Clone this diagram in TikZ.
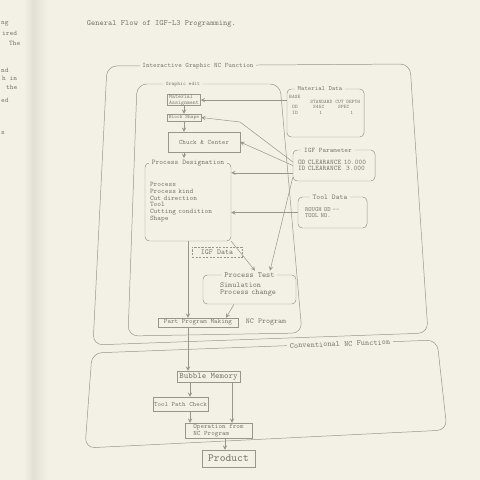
\documentclass[tikz,border=0pt]{standalone}
\definecolor{paper}{RGB}{243,240,229}
\definecolor{ink}{RGB}{122,122,114}
\definecolor{wire}{RGB}{150,150,140}
\newlength\unitpx
\setlength\unitpx{0.025cm}
\begin{document}
\begin{tikzpicture}[x=0.025cm,y=-0.025cm,>=stealth,line width=.35pt,
  fs/.style 2 args={font=\ttfamily\fontsize{#1}{#2}\selectfont,text=ink},
  bx/.style={draw=wire,inner sep=0pt,align=center},
  rbx/.style={draw=wire,rounded corners=3pt,inner sep=0pt},
  ttl/.style={fill=paper,inner xsep=2pt,inner ysep=1pt},
  frame/.style={draw=wire,rounded corners=7pt},
  cn/.style={draw=wire,->}]
\fill[paper] (0,0) rectangle (480,480);
\useasboundingbox (0,0) rectangle (480,480);
\shade[left color=paper,right color=paper!93!black] (24,0) rectangle (33,480);
\shade[left color=paper!93!black,right color=paper] (33,0) rectangle (48,480);
% facing page
\foreach \x/\y/\t in {1/24/ng,2/33/ired,9/43/The,1/70/nd,2/78/h in,6/87/the,1/100/ed,1/133/s}
  \node[fs={5}{5},anchor=west,inner sep=0pt] at (\x,\y) {\t};
\node[fs={5.7}{6},anchor=west] (head) at (82,24) {General Flow of IGF-L3 Programming.};
% frames
\draw[frame] (107,66) -- (410,64) -- (428,333) -- (93,345) -- cycle;
\node[ttl,fs={4.8}{5}] (igt) at (198,66) {Interactive Graphic NC Function};
\draw[frame] (137,84) -- (280,84) -- (302,333) -- (128,336) -- cycle;
\node[ttl,fs={3.8}{4}] (get) at (183,84) {Graphic edit};
\draw[frame] (92,353) -- (437,340) -- (447,430) -- (85,448) -- cycle;
\node[ttl,fs={5.6}{6},rotate=2] (cnt) at (340,344) {Conventional NC Function};
% graphic edit
\node[bx,fs={4}{4.2},align=left,minimum width=33\unitpx,minimum height=11\unitpx] (mas) at (184,100) {Material\\Assignment};
\node[bx,fs={3.7}{4},minimum width=34\unitpx,minimum height=7\unitpx] (blk) at (184,117.5) {Block Shape};
\node[bx,fs={4.8}{5},minimum width=72\unitpx,minimum height=20\unitpx] (chk) at (204,142) {Chuck \& Center};
\node[rbx,fs={5}{4.75},align=left,text width=76\unitpx,inner xsep=5\unitpx,minimum height=78\unitpx] (pd) at (188,202)
  {Process\\Process kind\\Cut direction\\Tool\\Cutting condition\\Shape};
\node[ttl,fs={5.1}{5}] (pdt) at (pd.north) {Process Designation};
\node[bx,dashed,dash pattern=on 1.5pt off 1pt,fs={5.4}{5},minimum width=50\unitpx,minimum height=10\unitpx] (igd) at (217,252) {IGF Data};
\node[rbx,fs={5.5}{5},align=left,text width=59\unitpx,inner xsep=17\unitpx,minimum height=29\unitpx] (pt) at (249.5,289.5)
  {Simulation\\Process change};
\node[ttl,fs={5.6}{5}] (ptt) at (pt.north) {Process Test};
\node[bx,fs={4.8}{5},minimum width=80\unitpx,minimum height=9\unitpx] (ppm) at (198,322.5) {Part Program Making};
\node[fs={5.4}{5},anchor=west] (ncp) at (241,322) {NC Program};
% data boxes
\node[rbx,minimum width=77\unitpx,minimum height=48\unitpx] (mtd) at (325.5,113) {};
\node[ttl,fs={4.6}{5}] (mtdt) at (320,89) {Material Data};
\foreach \x/\y/\t [count=\i] in {289/97/BASE,310/102/STANDARD,335/102/CUT DEPTH,292/107/OD,313/107/S45C,338/107/SPEC,292/113/ID,319/113/1,350/113/1}
  \node[fs={3.7}{4},anchor=west,inner sep=0pt] (md\i) at (\x,\y) {\t};
\node[rbx,fs={5}{4.6},align=left,text width=72\unitpx,inner xsep=5\unitpx,minimum height=31\unitpx] (igp) at (334,165.5)
  {OD CLEARANCE 10.000\\ID CLEARANCE\ \ 3.000};
\node[ttl,fs={4.9}{5}] (igpt) at (328,150) {IGF Parameter};
\node[rbx,fs={4.5}{4.3},align=left,text width=55\unitpx,inner xsep=7\unitpx,minimum height=31\unitpx] (tld) at (332.5,212.5)
  {ROUGH OD -{}-\\TOOL NO.};
\node[ttl,fs={5.2}{5}] (tldt) at (330,197) {Tool Data};
% conventional
\node[bx,fs={6}{6},minimum width=63\unitpx,minimum height=11\unitpx] (bub) at (208.5,376.5) {Bubble Memory};
\node[bx,fs={4.7}{5},minimum width=55\unitpx,minimum height=14\unitpx] (tpc) at (180.5,404) {Tool Path Check};
\node[bx,fs={4.8}{5},align=left,minimum width=67\unitpx,minimum height=15\unitpx] (opn) at (218.5,430.5) {Operation from\\NC Program};
\node[bx,fs={7.8}{8},minimum width=53\unitpx,minimum height=17\unitpx] (prd) at (228.5,458.5) {Product};
% connectors
\coordinate (xa) at (190,0);
\coordinate (xb) at (232,0);
\coordinate (xc) at (225,0);
\coordinate (xd) at (270,0);
\coordinate (xe) at (255,0);
\coordinate (xf) at (234,0);
\coordinate (xg) at (226,0);
\coordinate (kink) at (240,122);
\draw[cn] (mas.east -| mtd.west) -- (mas.east);
\draw[cn] (mas) -- (blk);
\draw[cn] (blk.south) -- (blk.south |- chk.north);
\draw[cn] (blk.south |- chk.south) -- (blk.south |- pdt.north);
\draw[cn] (igp.175) -- (kink) -- (blk.east);
\draw[cn] (igp.west) -- (chk.east);
\draw[cn] (igp.190) -- (pd.east |- igp.190);
\draw[cn] (tld.west) -- (pd.east |- tld.west);
\draw[cn] (igp.196) -- (ptt.north -| xd);
\draw[cn] (pd.south east) -- (ptt.north -| xe);
\draw[cn] (pd.south) -- (pd.south |- ppm.north);
\draw[cn] (pt.south -| xf) -- (ppm.north -| xg);
\draw[cn] (pd.south |- ppm.south) -- (pd.south |- bub.north);
\draw[cn] (bub.south -| xa) -- (tpc.north -| xa);
\draw[cn] (tpc.south -| xa) -- (opn.north -| xa);
\draw[cn] (bub.south -| xb) -- (opn.north -| xb);
\draw[cn] (opn.south -| xc) -- (prd.north -| xc);
\end{tikzpicture}
\end{document}
